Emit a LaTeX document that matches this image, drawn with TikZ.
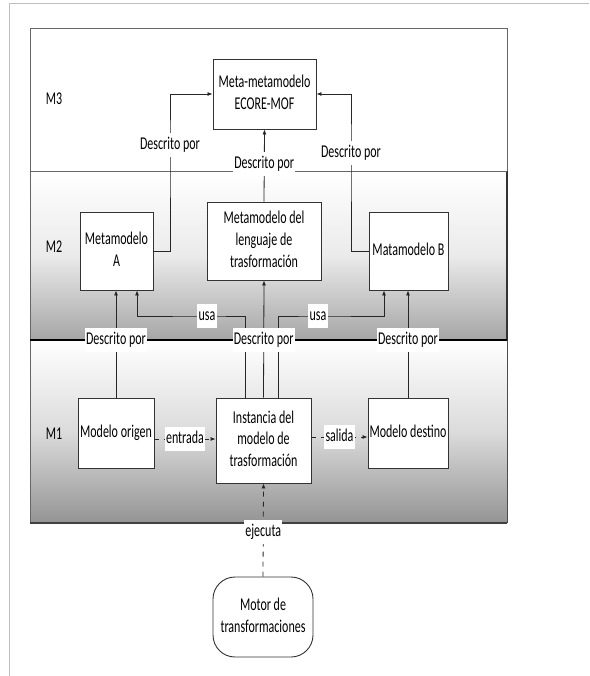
\documentclass[tikz,border=0pt]{standalone}
\usepackage{fontspec}
\setmainfont{Carlito}
\usepackage{graphicx}
\usetikzlibrary{arrows.meta,calc}
\newcommand\tx[1]{\scalebox{1}[1.5]{\begin{tabular}{@{}c@{}}#1\end{tabular}}}
\begin{document}
\begin{tikzpicture}[x=1pt,y=-1pt,
  font=\fontsize{12}{14.5}\selectfont,
  box/.style={draw=black!80, fill=white, line width=0.9pt, inner sep=0pt, align=center},
  lbl/.style={fill=white, inner sep=1.2pt},
  arr/.style={draw=black!85, line width=0.8pt, -{Latex[length=5pt,width=4pt]}},
  plain/.style={draw=black!85, line width=0.8pt},
  darr/.style={arr, dash pattern=on 5pt off 5pt}]
\useasboundingbox (0,0) rectangle (589,676);
% outer frame
\draw[black!25, line width=1pt] (9,676) -- (9,4) -- (589,4);
% layers
\fill[white] (30,28) rectangle (507,171);
\shade[top color=white, bottom color=black!35, middle color=black!8] (30,171) rectangle (507,340);
\shade[top color=white, bottom color=black!42, middle color=black!14] (30,340) rectangle (507,523);
\draw[black!60, line width=0.8pt] (30,171) rectangle (507,28);
\draw[black!60, line width=0.8pt] (30,171) -- (30,523);
\draw[black!80, line width=1.6pt] (507,171) -- (507,340);
\draw[black!70, line width=0.8pt] (507,340) -- (507,523);
\draw[black!75, line width=1.2pt] (30,523) -- (507,523);
\draw[black!60, line width=0.8pt] (30,171) -- (507,171);
\draw[black, line width=2pt] (30,340) -- (507,340);
% level labels
\node (m3) at (54,100) {\tx{M3}};
\node (m2) at (54,248) {\tx{M2}};
\node (m1) at (54,435) {\tx{M1}};
% boxes
\node[box, minimum width=103pt, minimum height=70pt] (meta) at (264.5,94) {\tx{Meta-metamodelo\\ECORE-MOF}};
\node[box, minimum width=73pt, minimum height=78pt] (mA) at (116.5,251) {\tx{Metamodelo\\A}};
\node[box, minimum width=114pt, minimum height=78pt] (mL) at (264,241) {\tx{Metamodelo del\\lenguaje de\\trasformación}};
\node[box, minimum width=79pt, minimum height=78pt] (mB) at (408.5,251) {\tx{Matamodelo B}};
\node[box, minimum width=76pt, minimum height=70pt] (mo) at (116,433) {\tx{Modelo origen}};
\node[box, minimum width=95pt, minimum height=85pt] (inst) at (263.5,440.5) {\tx{Instancia del\\modelo de\\trasformación}};
\node[box, minimum width=80pt, minimum height=70pt] (md) at (408,433) {\tx{Modelo destino}};
\node[box, rounded corners=22pt, minimum width=100pt, minimum height=80pt] (motor) at (263,617) {\tx{Motor de\\transformaciones}};
% connectors to M3
\draw[arr] (mA.east) -| (170,145) node[lbl] {\tx{Descrito por}} |- (meta.west);
\draw[arr] (mB.west) -| (351,153) node[lbl] {\tx{Descrito por}} |- (meta.east);
\draw[arr] (mL.north) -- node[lbl, pos=0.52] {\tx{Descrito por}} (meta.south);
% usa connectors
\draw[arr] ($(inst.north)+(-18.5,0)$) |- (207,316) node[lbl, minimum height=20pt] {\tx{usa}} -| ($(mA.south)+(20.5,0)$);
\draw[arr] ($(inst.north)+(14.5,0)$) |- (318,316) node[lbl, minimum height=20pt] {\tx{usa}} -| ($(mB.south)+(-24.5,0)$);
% connectors to M2
\draw[arr] (mo.north) -- node[lbl, pos=0.54] {\tx{Descrito por}} (mo.north |- mA.south);
\draw[arr] (inst.north) -- node[lbl, pos=0.49] {\tx{Descrito por}} (mL.south);
\draw[arr] (md.north) -- node[lbl, pos=0.54] {\tx{Descrito por}} (md.north |- mB.south);
% M1 flows
\draw[darr] ($(mo.east)+(0,6)$) -- node[lbl] {\tx{entrada}} ($(inst.west)+(0,-1.5)$);
\draw[darr] ($(inst.east)+(0,-3.5)$) -- node[lbl] {\tx{salida}} ($(md.west)+(0,4)$);
\draw[darr] (motor.north) -- node[lbl, pos=0.48] {\tx{ejecuta}} (inst.south);
\end{tikzpicture}
\end{document}
